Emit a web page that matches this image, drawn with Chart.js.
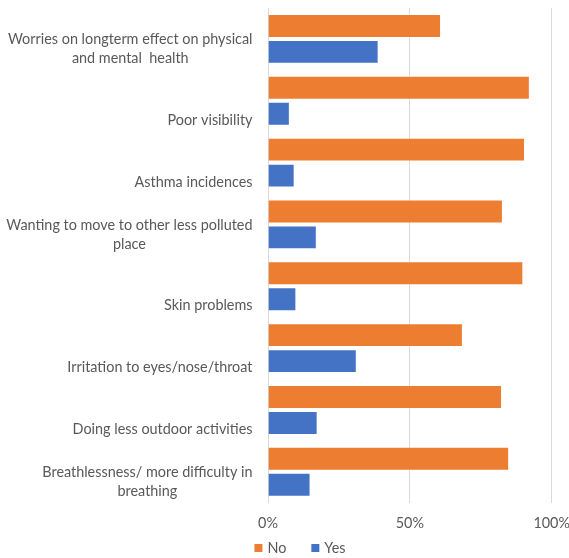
<!DOCTYPE html>
<html><head><meta charset="utf-8">
<script src="https://cdn.jsdelivr.net/npm/chart.js@4.4.1/dist/chart.umd.min.js"></script>
<style>html,body{margin:0;padding:0;background:#fff;} canvas{display:block;}</style>
</head><body>
<canvas id="c" width="569" height="558"></canvas>
<script>
const categories = [
  ['Worries on longterm effect on physical', 'and mental  health'],
  ['Poor visibility'],
  ['Asthma incidences'],
  ['Wanting to move to other less polluted', 'place'],
  ['Skin problems'],
  ['Irritation to eyes/nose/throat'],
  ['Doing less outdoor activities'],
  ['Breathlessness/ more difficulty in', 'breathing']
];
const seriesNames = ['No', 'Yes'];
const noValues  = [61.0, 92.3, 90.6, 82.8, 90.0, 68.7, 82.5, 85.0];
const yesValues = [39.0,  7.7,  9.4, 17.2, 10.0, 31.3, 17.5, 15.0];
const xTickValues = [0, 50, 100];
const xTickLabels = ['0%', '50%', '100%'];

const TEXT = '#595959';
const FONT = 'Lato';
const FS = 14.4;
Chart.defaults.font.family = FONT;
Chart.defaults.font.size = FS;
Chart.defaults.color = TEXT;

const catLabelPlugin = {
  id: 'catLabels',
  afterDraw(chart) {
    const ys = chart.scales.y;
    const ctx = chart.ctx;
    const rightEdge = chart.chartArea.left - 15.5;
    const lineH = 18.6;
    ctx.save();
    ctx.font = FS + 'px ' + FONT;
    ctx.fillStyle = TEXT;
    ctx.textBaseline = 'middle';
    ctx.textAlign = 'center';
    chart.data.labels.forEach((lines, i) => {
      const yc = ys.getPixelForTick(i);
      const maxW = Math.max(...lines.map(l => ctx.measureText(l).width));
      const cx = rightEdge - maxW / 2;
      const n = lines.length;
      lines.forEach((l, j) => {
        ctx.fillText(l, cx, yc + 19.5 - (n - 1 - j) * lineH);
      });
    });

    // legend
    const items = chart.data.datasets.map(d => ({ text: d.label, color: d.backgroundColor }));
    const box = 8, gapText = 5, gapItem = 25;
    const widths = items.map(it => box + gapText + ctx.measureText(it.text).width);
    const total = widths.reduce((a, b) => a + b, 0) + gapItem * (items.length - 1);
    let x = 300 - total / 2;
    const ly = 548;
    ctx.textAlign = 'left';
    items.forEach((it, k) => {
      ctx.fillStyle = it.color;
      ctx.fillRect(x, ly - box / 2, box, box);
      ctx.fillStyle = TEXT;
      ctx.fillText(it.text, x + box + gapText, ly);
      x += widths[k] + gapItem;
    });
    ctx.restore();
  }
};

new Chart(document.getElementById('c'), {
  type: 'bar',
  data: {
    labels: categories,
    datasets: [
      { label: seriesNames[0], data: noValues, backgroundColor: '#ED7D31',
        borderColor: 'rgba(255,255,255,0.35)', borderWidth: 1,
        categoryPercentage: 0.84, barPercentage: 0.92 },
      { label: seriesNames[1], data: yesValues, backgroundColor: '#4472C4',
        borderColor: 'rgba(255,255,255,0.35)', borderWidth: 1,
        categoryPercentage: 0.84, barPercentage: 0.92 }
    ]
  },
  options: {
    indexAxis: 'y',
    responsive: false,
    animation: false,
    devicePixelRatio: 1,
    layout: { padding: { top: 8, left: 0, right: 17.3, bottom: 14 } },
    plugins: {
      tooltip: { enabled: false },
      legend: { display: false }
    },
    scales: {
      x: {
        min: 0, max: 100,
        afterBuildTicks: s => { s.ticks = xTickValues.map(v => ({ value: v })); },
        afterFit: s => { s.paddingRight = 0; s.paddingLeft = 0; },
        ticks: { callback: (v, i) => xTickLabels[i], padding: 12, color: TEXT, font: { size: FS } },
        grid: { color: '#D9D9D9', lineWidth: 1, drawTicks: false },
        border: { display: false }
      },
      y: {
        ticks: { display: false },
        grid: { display: false },
        border: { display: false },
        afterFit: s => { s.width = 268; }
      }
    }
  },
  plugins: [catLabelPlugin]
});
</script>
</body></html>
